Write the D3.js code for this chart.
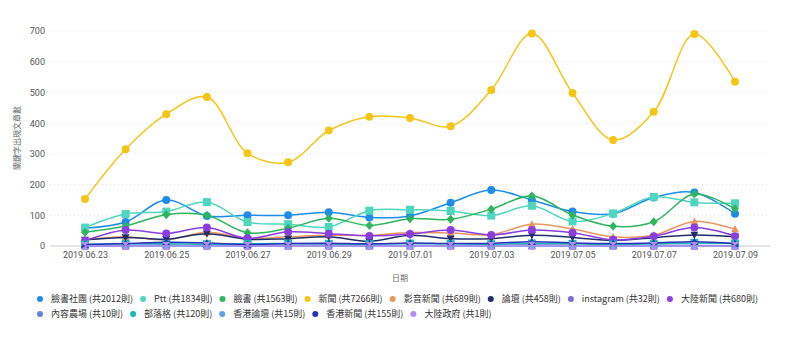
<!DOCTYPE html>
<html><head><meta charset="utf-8">
<script src="https://cdn.jsdelivr.net/npm/d3@7"></script>
<style>body{margin:0;background:#fff}svg{display:block;font-family:"Noto Sans CJK TC","Noto Sans",sans-serif}</style>
</head><body><svg id="c" width="800" height="338"></svg>
<script>
const dates = ["2019.06.23","2019.06.24","2019.06.25","2019.06.26","2019.06.27","2019.06.28","2019.06.29","2019.06.30","2019.07.01","2019.07.02","2019.07.03","2019.07.04","2019.07.05","2019.07.06","2019.07.07","2019.07.08","2019.07.09"];
const yTicks = [0,100,200,300,400,500,600,700];
const seriesNames = ["臉書社團","Ptt","臉書","新聞","影音新聞","論壇","instagram","大陸新聞","內容農場","部落格","香港論壇","香港新聞","大陸政府"];
const seriesColors = ["#1f8ceb","#4fd6bf","#2eb55e","#f5c518","#e8965f","#1f2d6b","#7a6cd6","#8a3ee0","#5f86db","#1bb8b8","#5ea3e6","#2a33b8","#b58ef0"];
const seriesShapes = ["circle","square","diamond","circle","triangle","triangleDown","triangleDown","circle","triangle","square","diamond","triangle","hourglass"];
const vFbGroup = [58,78,150,98,100,100,110,93,98,141,182,150,112,105,158,174,105];
const vPtt = [60,104,112,143,78,71,62,115,118,114,99,131,80,106,160,142,139];
const vFb = [45,65,102,100,43,58,90,67,89,87,120,163,101,64,79,169,121];
const vNews = [153,315,429,485,302,273,376,421,417,390,508,692,498,345,437,690,535];
const vVideo = [20,30,20,45,25,30,35,35,44,42,37,71,55,30,35,80,55];
const vForum = [20,28,22,40,22,24,30,15,35,24,24,35,28,18,27,36,30];
const vIg = [2,2,3,1,2,2,3,2,2,1,2,3,2,1,2,2,0];
const vCnNews = [17,52,41,60,25,46,40,33,39,52,36,52,43,20,32,60,32];
const vFarm = [1,0,1,0,1,1,0,1,0,1,1,1,0,1,0,1,0];
const vBlog = [5,7,7,6,7,8,7,6,8,7,6,8,7,5,7,10,8];
const vHkForum = [1,1,1,0,1,1,0,1,1,0,1,2,1,1,1,1,1];
const vHkNews = [5,8,12,10,5,8,9,7,10,8,9,14,10,8,10,14,8];
const vCnGov = [0,0,0,0,0,0,0,0,0,0,0,1,0,0,0,0,0];
const seriesValues = [vFbGroup,vPtt,vFb,vNews,vVideo,vForum,vIg,vCnNews,vFarm,vBlog,vHkForum,vHkNews,vCnGov];

const svg = d3.select("#c");
const x = d3.scalePoint().domain(dates).range([85,735]);
const y = d3.scaleLinear().domain([0,700]).range([246,31]);

// grid
svg.append("g").selectAll("line").data(yTicks.filter(d=>d>0)).join("line")
  .attr("x1",50).attr("x2",770).attr("y1",d=>y(d)).attr("y2",d=>y(d))
  .attr("stroke","#ddd").attr("stroke-width",1).attr("stroke-dasharray","1,3");
svg.append("line").attr("x1",50).attr("x2",770).attr("y1",y(0)).attr("y2",y(0)).attr("stroke","#ccc");

// y axis
const ya = svg.append("g").attr("transform","translate(45,0)")
  .call(d3.axisLeft(y).tickValues(yTicks).tickSize(0).tickPadding(0));
ya.select(".domain").remove();
ya.selectAll("text").attr("fill","#555").style("font-size","9px").style("font-family","Roboto,'Noto Sans',sans-serif");

// x axis
const xa = svg.append("g").attr("transform","translate(0,250)")
  .call(d3.axisBottom(x).tickValues(dates.filter((d,i)=>i%2===0)).tickSize(0).tickPadding(2));
xa.select(".domain").remove();
xa.selectAll("text").attr("fill","#555").style("font-size","9px").style("font-family","Roboto,'Noto Sans',sans-serif");

svg.append("text").attr("x",400).attr("y",281).attr("text-anchor","middle").attr("fill","#666").style("font-size","8px").text("日期");
svg.append("text").attr("transform","translate(20,138) rotate(-90)").attr("text-anchor","middle").attr("fill","#666").style("font-size","8px").text("關鍵字出現文章數");

function shapePath(s){
  const r=4;
  if(s==="square") return `M${-r},${-r}h${2*r}v${2*r}h${-2*r}Z`;
  if(s==="diamond") return `M0,${-r-0.5}L${r},0L0,${r+0.5}L${-r},0Z`;
  if(s==="triangle") return `M0,${-r}L${r},${r*0.8}L${-r},${r*0.8}Z`;
  if(s==="triangleDown") return `M0,${r}L${r},${-r*0.8}L${-r},${-r*0.8}Z`;
  if(s==="hourglass") return `M${-r},${-r}L${r},${-r}L${-r},${r}L${r},${r}Z`;
  return d3.symbol(d3.symbolCircle, 50)();
}

const line = d3.line().x((d,i)=>x(dates[i])).y(d=>y(d)).curve(d3.curveCatmullRom.alpha(0.5));
seriesNames.forEach((name,k)=>{
  const g = svg.append("g");
  g.append("path").attr("d",line(seriesValues[k])).attr("fill","none")
    .attr("stroke",seriesColors[k]).attr("stroke-width",1.5);
  g.selectAll("path.m").data(seriesValues[k]).join("path").attr("class","m")
    .attr("transform",(d,i)=>`translate(${x(dates[i])},${y(d)})`)
    .attr("d",shapePath(seriesShapes[k])).attr("fill",seriesColors[k]);
});

// legend
const totals = seriesValues.map(v=>d3.sum(v));
const rows = [[0,1,2,3,4,5,6,7],[8,9,10,11,12]];
const legendTotals = [2012,1834,1563,7266,689,458,32,680,10,120,15,155,1];
rows.forEach((row,ri)=>{
  let cx = 40;
  const yy = 299 + ri*15;
  row.forEach(k=>{
    svg.append("circle").attr("cx",cx).attr("cy",yy).attr("r",3).attr("fill",seriesColors[k]);
    const t = svg.append("text").attr("x",cx+11).attr("y",yy+3.2).attr("fill","#333").style("font-size","9px")
      .text(`${seriesNames[k]} (共${legendTotals[k]}則)`);
    cx = cx + 11 + t.node().getComputedTextLength() + 10;
  });
});
</script></body></html>
